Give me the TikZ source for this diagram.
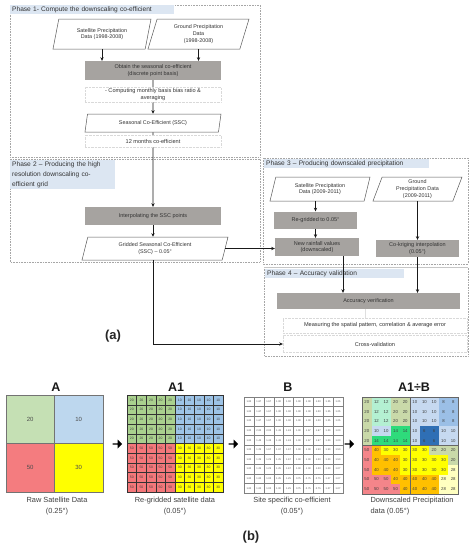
\documentclass[tikz,border=0pt]{standalone}
\usepackage{fontspec}
\setmainfont{Liberation Sans}
\usetikzlibrary{shapes.geometric,shapes.arrows,arrows.meta,calc}
\definecolor{boxgray}{HTML}{A6A3A0}
\definecolor{txt}{HTML}{333333}
\definecolor{phasebg}{HTML}{DCE6F2}
\definecolor{c20}{HTML}{C9D9A9}
\definecolor{c12}{HTML}{B4F0D2}
\definecolor{c14}{HTML}{2EDB7B}
\definecolor{c10}{HTML}{C6D9F0}
\definecolor{c8}{HTML}{9BBFE6}
\definecolor{c6}{HTML}{2F6FB5}
\definecolor{c50}{HTML}{F4858A}
\definecolor{c40}{HTML}{FFC000}
\definecolor{c30}{HTML}{FFFF00}
\definecolor{c28}{HTML}{FFFFC0}
\definecolor{aG}{HTML}{C5E0B4}
\definecolor{aB}{HTML}{BDD7EE}
\definecolor{aR}{HTML}{F47C7F}
\definecolor{aY}{HTML}{FFFF00}
\definecolor{a1G}{HTML}{A9D08E}
\definecolor{a1B}{HTML}{9DC3E6}
\definecolor{a1R}{HTML}{F4777A}
\definecolor{a1Y}{HTML}{FFFF00}
\tikzset{
  phase/.style={draw=gray!70, densely dotted, line width=0.6pt},
  plabel/.style={fill=phasebg, anchor=north west, font=\fontsize{6.6}{10}\selectfont, text=txt, align=left, inner xsep=2pt, inner ysep=1.5pt},
  gbox/.style={draw=none, fill=boxgray, font=\fontsize{5.5}{6.8}\selectfont, text=txt, align=center, inner sep=0pt},
  para/.style={trapezium, trapezium stretches body=true, trapezium left angle=63.4, trapezium right angle=116.6, draw=black!65, line width=0.5pt, fill=white, font=\fontsize{5.4}{6.6}\selectfont, text=txt, align=center, inner sep=0pt},
  note/.style={draw=gray!30, densely dotted, fill=white, font=\fontsize{5.6}{7.2}\selectfont, text=txt, align=center, inner sep=0pt},
  arr/.style={-{Stealth[length=3.6pt,width=3.4pt]}, line width=0.9pt, draw=black!90},
  hd/.style={font=\bfseries\fontsize{12.5}{13}\selectfont, text=black!90},
  lab/.style={font=\fontsize{7.4}{11}\selectfont, text=black!75, align=center},
  blockarr/.style={single arrow, fill=black, draw=none, minimum height=9.5pt, minimum width=9pt, single arrow head extend=1.3pt, inner sep=0pt},
  cellA1/.style={font=\fontsize{3.4}{3.4}\selectfont, text=black!75, inner sep=0pt},
  cellB/.style={font=\fontsize{2.5}{2.5}\selectfont, text=black!70, inner sep=0pt},
  cellAB/.style={font=\fontsize{4.3}{4.3}\selectfont, text=black!75, inner sep=0pt},
}
\begin{document}
\begin{tikzpicture}[x=1pt,y=-1pt]
\useasboundingbox (0,0) rectangle (476,550);
\fill[white] (0,0) rectangle (476,550);

% phase frames
\draw[phase] (10,5) rectangle (260,157);
\draw[phase] (10,159) rectangle (260,262);
\draw[phase] (263,158) rectangle (468,264);
\draw[phase] (264,267) rectangle (468,356);
\draw[gray!45, line width=0.6pt] (264,267) -- (468,267);

% phase labels
\node[plabel, text width=160pt] (ph1) at (10,5) {Phase 1- Compute the downscaling co-efficient};
\node[plabel, text width=101pt] (ph2) at (10,160) {Phase 2 – Producing the high\\resolution downscaling co-\\efficient grid};
\node[plabel, text width=161pt] (ph3) at (264,159) {Phase 3 – Producing downscaled precipitation};
\node[plabel, text width=135pt] (ph4) at (265,269) {Phase 4 – Accuracy validation};

% flow nodes
\node[para, minimum width=98pt, minimum height=30pt] (sat1) at (102,34) {Satellite Precipitation\\Data (1998-2008)};
\node[para, minimum width=101pt, minimum height=30pt] (gnd1) at (198.5,34) {Ground Precipitation\\Data\\(1998-2008)};
\node[gbox, minimum width=136pt, minimum height=19pt] (obtain) at (153,70.5) {Obtain the seasonal co-efficient\\(discrete point basis)};
\node[para, minimum width=136pt, minimum height=18pt] (ssc) at (153,123) {Seasonal Co-Efficient (SSC)};
\node[gbox, minimum width=136pt, minimum height=18pt] (interp) at (153,216) {Interpolating the SSC points};
\node[para, minimum width=146pt, minimum height=23pt] (grid) at (155,248.5) {Gridded Seasonal Co-Efficient\\(SSC) – 0.05°};
\node[para, minimum width=100pt, minimum height=24pt] (sat2) at (320,189) {Satellite Precipitation\\Data (2009-2011)};
\node[para, minimum width=89pt, minimum height=24pt] (gnd2) at (417.5,189) {Ground\\Precipitation Data\\(2009-2011)};
\node[gbox, minimum width=83pt, minimum height=17pt] (regrid) at (315.5,220) {Re-gridded to 0.05°};
\node[gbox, minimum width=84pt, minimum height=18pt] (newrain) at (317,247) {New rainfall values\\(downscaled)};
\node[gbox, minimum width=83pt, minimum height=17pt] (cokrig) at (417.5,248.5) {Co-kriging interpolation\\(0.05°)};
\node[gbox, minimum width=183pt, minimum height=16pt] (acc) at (368.5,301) {Accuracy verification};
\node[note, minimum width=184pt, minimum height=15pt] (meas) at (375,325.5) {Measuring the spatial pattern, correlation \& average error};
\node[note, minimum width=184pt, minimum height=17pt] (cross) at (375,344) {Cross-validation};

% connectors
\draw[arr] (sat1.south) -- (sat1.south |- obtain.north);
\draw[arr] (gnd1.south) -- (gnd1.south |- obtain.north);
\draw[arr] (obtain.south) -- (ssc.north);
\draw[arr] (ssc.south) -- (interp.north);
\draw[arr] (interp.south) -- (interp.south |- grid.north);
\draw[arr] (grid.east) -- (grid.east -| newrain.west);
\draw[arr] (interp.south |- grid.south) |- (cross.west);
\draw[arr] (regrid.north |- sat2.south) -- (regrid.north);
\draw[arr] (regrid.south) -- (regrid.south |- newrain.north);
\draw[arr] (gnd2.south) -- (gnd2.south |- cokrig.north);
\draw[arr] ([xshift=26pt]newrain.south) -- ([xshift=26pt]newrain.south |- acc.north);
\draw[arr] (cokrig.south) -- (cokrig.south |- acc.north);
\draw[gray!25, line width=0.5pt] ([xshift=-3.5pt]acc.south) -- ([xshift=-3.5pt]acc.south |- meas.north);

% notes covering the trunk line
\node[note, minimum width=136pt, minimum height=15pt] (comp) at (153,94.5) {- Computing monthly basis bias ratio \&\\averaging};
\node[note, minimum width=136pt, minimum height=12pt] (months) at (153,141) {12 months co-efficient};

\node[font=\bfseries\fontsize{13}{13}\selectfont, text=black!85] (la) at (113,336) {(a)};

% ---------- part (b) ----------
\node[hd] (hA) at (56,387) {A};
\node[hd] (hA1) at (176,387) {A1};
\node[hd] (hB) at (288,387) {B};
\node[hd] (hAB) at (414,387) {A1÷B};

% grid A
\fill[aG] (6,395) rectangle (54.5,443.5);
\fill[aB] (54.5,395) rectangle (103,443.5);
\fill[aR] (6,443.5) rectangle (54.5,492);
\fill[aY] (54.5,443.5) rectangle (103,492);
\draw[black!55, line width=0.6pt] (6,395) rectangle (103,492) (54.5,395) -- (54.5,492) (6,443.5) -- (103,443.5);
\node[font=\fontsize{6}{6}\selectfont, text=black!70] (a20) at (30.25,419.25) {20};
\node[font=\fontsize{6}{6}\selectfont, text=black!70] (a10) at (78.75,419.25) {10};
\node[font=\fontsize{6}{6}\selectfont, text=black!70] (a50) at (30.25,467.75) {50};
\node[font=\fontsize{6}{6}\selectfont, text=black!70] (a30) at (78.75,467.75) {30};

% grid A1
\foreach \qr/\qc/\col/\v in {0/0/a1G/20, 0/1/a1B/10, 1/0/a1R/50, 1/1/a1Y/30} {
  \foreach \i in {0,...,4} {
    \foreach \j in {0,...,4} {
      \filldraw[fill=\col, draw=black!80, line width=0.3pt] ({127+(\qc*5+\j)*9.6},{395+(\qr*5+\i)*9.7}) rectangle ++(9.6,9.7);
      \node[cellA1] (a1-\qr\qc\i\j) at ({127+(\qc*5+\j+0.5)*9.6},{395+(\qr*5+\i+0.5)*9.7}) {\v};
    }
  }
}

% grid B
\foreach \row [count=\r] in {
  {1.00,1.67,1.67,1.00,1.00,1.00,1.00,1.00,1.25,1.25},
  {1.00,1.67,1.67,1.00,1.00,1.00,1.00,1.00,1.25,1.25},
  {1.00,1.67,1.67,1.00,1.00,1.00,1.00,1.00,1.25,1.25},
  {1.00,2.00,2.00,1.43,1.43,1.00,1.67,1.67,1.00,1.00},
  {1.00,1.43,1.43,1.43,1.43,1.00,1.67,1.67,1.00,1.00},
  {1.00,1.25,1.67,1.67,1.67,1.00,1.00,1.50,1.50,1.50},
  {1.00,1.25,1.25,1.25,1.67,1.00,1.00,1.00,1.00,1.50},
  {1.00,1.25,1.25,1.25,1.67,1.00,1.00,1.00,1.00,1.07},
  {1.00,1.00,1.00,1.25,1.25,0.75,0.75,0.75,1.07,1.07},
  {1.00,1.00,1.00,1.00,1.25,0.75,0.75,0.75,1.07,1.07}} {
  \foreach \v [count=\c] in \row {
    \filldraw[fill=white, draw=black!50, line width=0.35pt] ({244+(\c-1)*9.9},{397+(\r-1)*9.6}) rectangle ++(9.9,9.6);
    \node[cellB] (b-\r-\c) at ({244+(\c-0.5)*9.9},{397+(\r-0.5)*9.6}) {\v};
  }
}

% grid A1 / B
\foreach \row [count=\r] in {
  {20,12,12,20,20,10,10,10,8,8},
  {20,12,12,20,20,10,10,10,8,8},
  {20,12,12,20,20,10,10,10,8,8},
  {20,10,10,14,14,10,6,6,10,10},
  {20,14,14,14,14,10,6,6,10,10},
  {50,40,30,30,30,30,30,20,20,20},
  {50,40,40,40,30,30,30,30,30,20},
  {50,40,40,40,30,30,30,30,30,28},
  {50,50,50,40,40,40,40,40,28,28},
  {50,50,50,50,40,40,40,40,28,28}} {
  \foreach \v [count=\c] in \row {
    \fill[c\v] ({362+(\c-1)*9.6},{397+(\r-1)*9.7}) rectangle ++(9.6,9.7);
    \node[cellAB] (ab-\r-\c) at ({362+(\c-0.5)*9.6},{397+(\r-0.5)*9.7}) {\v};
  }
}
\draw[black!60, line width=0.7pt] (362,397) rectangle ++(48,48.5) (410,397) rectangle ++(48,48.5)
  (362,445.5) rectangle ++(48,48.5) (410,445.5) rectangle ++(48,48.5);

% block arrows
\node[blockarr] (ar1) at (117,444) {};
\node[blockarr] (ar2) at (233,444) {};
\node[blockarr] (ar3) at (349,444) {};

% captions
\node[lab] (labA) at (57,506.5) {Raw Satellite Data\\(0.25°)};
\node[lab] (labA1) at (175,506.5) {Re-gridded satellite data\\(0.05°)};
\node[lab] (labB) at (292,506.5) {Site specific co-efficient\\(0.05°)};
\node[lab, align=left, anchor=west] (labAB) at (367,506.5) {Downscaled Precipitation\\data (0.05°)};

\node[font=\bfseries\fontsize{13}{13}\selectfont, text=black!85] (lb) at (251,537) {(b)};
\end{tikzpicture}
\end{document}
